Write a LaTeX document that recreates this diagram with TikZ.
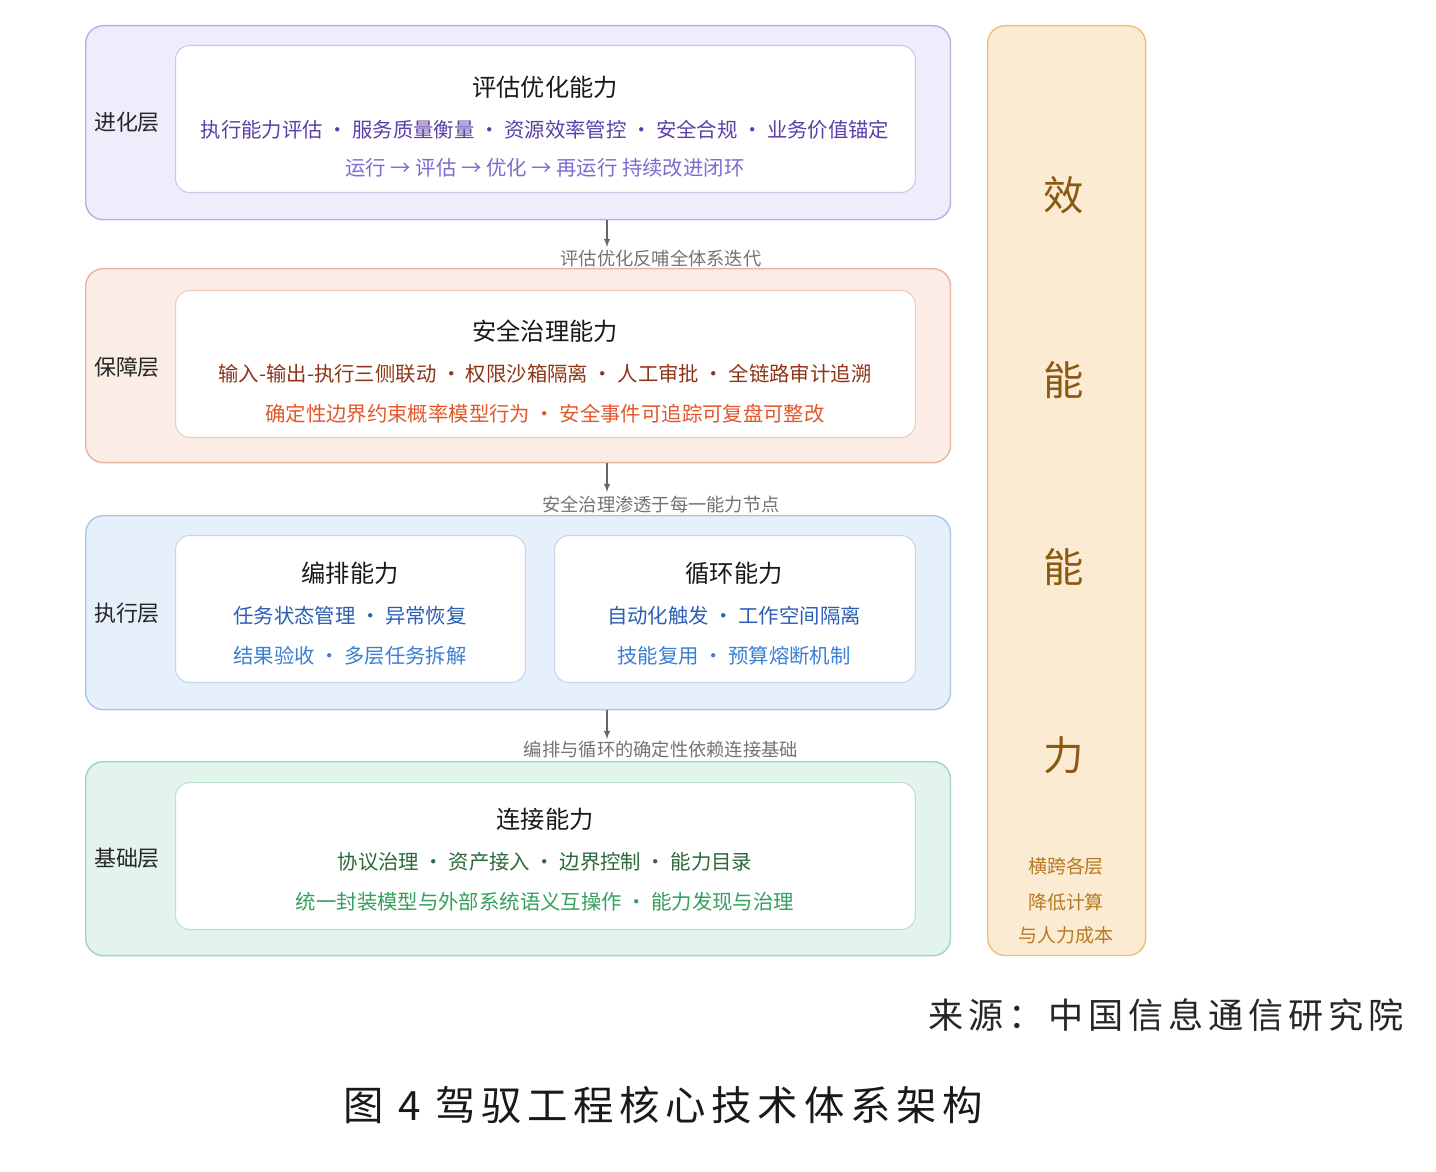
\documentclass[tikz,border=0pt]{standalone}
\usepackage{fontspec}
\setmainfont{Noto Sans CJK SC}
\newfontfamily\capfont[LetterSpace=14]{Noto Sans CJK SC}
\usetikzlibrary{positioning,calc}

\definecolor{evoFill}{HTML}{EFECFB}\definecolor{evoLine}{HTML}{B9AEE6}
\definecolor{evoDark}{HTML}{5B3FA8}\definecolor{evoLight}{HTML}{7C6BD0}
\definecolor{guaFill}{HTML}{FBECE6}\definecolor{guaLine}{HTML}{E8B3A0}
\definecolor{guaDark}{HTML}{8E3518}\definecolor{guaLight}{HTML}{E2572B}
\definecolor{exeFill}{HTML}{E6F0FA}\definecolor{exeLine}{HTML}{A9C6EA}
\definecolor{exeDark}{HTML}{2B5FB5}\definecolor{exeLight}{HTML}{3C80D2}
\definecolor{basFill}{HTML}{E3F4EC}\definecolor{basLine}{HTML}{9FD5B9}
\definecolor{basDark}{HTML}{2C6A3C}\definecolor{basLight}{HTML}{34A05C}
\definecolor{effFill}{HTML}{FCEBD3}\definecolor{effLine}{HTML}{EDBE7C}
\definecolor{effDark}{HTML}{8A5A12}\definecolor{effLight}{HTML}{B57A22}

\tikzset{
  layer/.style={draw=#1Line,fill=#1Fill,rounded corners=10pt,line width=0.8pt,
    minimum width=17.3cm,minimum height=3.88cm,anchor=north west,inner sep=0pt},
  card/.style={draw=#1Line!70,fill=white,rounded corners=8pt,line width=0.6pt,
    minimum height=2.94cm,anchor=north west,inner sep=0pt},
  tag/.style={font=\fontsize{12.5}{14}\selectfont,text=black!85},
  ttl/.style={font=\fontsize{13.8}{16}\selectfont,text=black!90},
  line/.style={font=\fontsize{11.6}{13}\selectfont},
  hint/.style={font=\fontsize{10.4}{12}\selectfont,text=black!55},
  flow/.style={draw=black!60,line width=0.6pt,-latex}
}

\begin{document}
\begin{tikzpicture}[x=0.02cm,y=-0.02cm]
\useasboundingbox (0,0) rectangle (1436,1172);

% layers
\node[layer=evo] (evo) at (85,25) {};
\node[layer=gua] (gua) at (85,268) {};
\node[layer=exe] (exe) at (85,515) {};
\node[layer=bas] (bas) at (85,761) {};
\foreach \n/\t/\y in {evo/进化层/122,gua/保障层/367,exe/执行层/613,bas/基础层/858}
  \node[tag] at (127,\y) {\t};

% cards
\node[card=evo,minimum width=14.8cm] (evoCard) at (175,45) {};
\node[ttl] at (545,87) {评估优化能力};
\node[line,text=evoDark] at (545,130) {执行能力评估 · 服务质量衡量 · 资源效率管控 · 安全合规 · 业务价值锚定};
\node[line,text=evoLight] at (545,168) {运行 → 评估 → 优化 → 再运行 持续改进闭环};

\node[card=gua,minimum width=14.8cm] (guaCard) at (175,290) {};
\node[ttl] at (545,331) {安全治理能力};
\node[line,text=guaDark] at (545,374) {输入-输出-执行三侧联动 · 权限沙箱隔离 · 人工审批 · 全链路审计追溯};
\node[line,text=guaLight] at (545,414) {确定性边界约束概率模型行为 · 安全事件可追踪可复盘可整改};

\node[card=exe,minimum width=7.0cm] (orcCard) at (175,535) {};
\node[ttl] at (350,573) {编排能力};
\node[line,text=exeDark] at (350,616) {任务状态管理 · 异常恢复};
\node[line,text=exeLight] at (350,656) {结果验收 · 多层任务拆解};
\node[card=exe,minimum width=7.22cm] (loopCard) at (554,535) {};
\node[ttl] at (734,573) {循环能力};
\node[line,text=exeDark] at (734,616) {自动化触发 · 工作空间隔离};
\node[line,text=exeLight] at (734,656) {技能复用 · 预算熔断机制};

\node[card=bas,minimum width=14.8cm] (basCard) at (175,782) {};
\node[ttl] at (545,819) {连接能力};
\node[line,text=basDark] at (545,862) {协议治理 · 资产接入 · 边界控制 · 能力目录};
\node[line,text=basLight] at (545,902) {统一封装模型与外部系统语义互操作 · 能力发现与治理};

% links between layers
\coordinate (e1) at (607,247);
\coordinate (e2) at (607,492);
\coordinate (e3) at (607,739);
\draw[flow] (evo.south -| e1) -- (e1);
\draw[flow] (gua.south -| e2) -- (e2);
\draw[flow] (exe.south -| e3) -- (e3);
\node[hint] at (661,258) {评估优化反哺全体系迭代};
\node[hint] at (661,504) {安全治理渗透于每一能力节点};
\node[hint] at (661,750) {编排与循环的确定性依赖连接基础};

% efficiency column
\node[draw=effLine,fill=effFill,rounded corners=10pt,line width=0.8pt,
  minimum width=3.16cm,minimum height=18.6cm,anchor=north west] (eff) at (987,25) {};
\foreach \c/\y in {效/195,能/380,能/567,力/755}
  \node[font=\fontsize{23}{26}\selectfont,text=effDark] at (1064,\y) {\c};
\foreach \c/\y in {横跨各层/866,降低计算/902,与人力成本/935}
  \node[font=\fontsize{10.8}{12}\selectfont,text=effLight] at (1066,\y) {\c};

% source and caption
\node[font=\capfont\fontsize{20}{24}\selectfont,anchor=east,text=black!85] (src) at (1410,1015) {来源：中国信息通信研究院};
\node[font=\capfont\fontsize{23}{28}\selectfont,text=black!90] (cap) at (663,1105) {图\ 4\ 驾驭工程核心技术体系架构};
\end{tikzpicture}
\end{document}
